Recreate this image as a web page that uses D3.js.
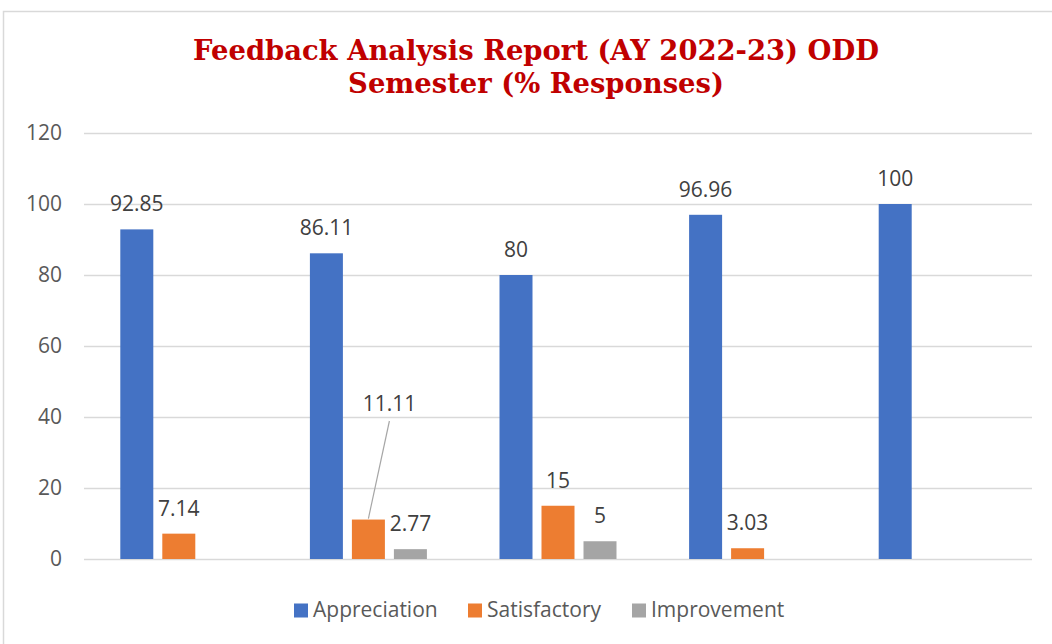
<!DOCTYPE html>
<html><head><meta charset="utf-8">
<script src="https://cdn.jsdelivr.net/npm/d3@7"></script>
<style>body{margin:0;background:#fff}svg{display:block}</style>
</head><body><svg id="c" width="1052" height="644"></svg>
<script>
const groups = ["G1","G2","G3","G4","G5"];
const seriesNames = ["Appreciation","Satisfactory","Improvement"];
const appreciation = [92.85, 86.11, 80, 96.96, 100];
const satisfactory = [7.14, 11.11, 15, 3.03, null];
const improvement = [null, 2.77, 5, null, null];
const yTicks = [0,20,40,60,80,100,120];
const colors = ["#4472C4","#ED7D31","#A5A5A5"];

const FONT = "'Open Sans', 'Noto Sans', sans-serif";
const svg = d3.select("#c");
svg.append("rect").attr("x",3.5).attr("y",11.5).attr("width",1100).attr("height",700)
  .attr("fill","#fff").attr("stroke","#D9D9D9").attr("stroke-width",1.5);

const x0 = d3.scaleBand().domain(groups).range([84,1032]).padding(0);
const x1 = d3.scaleBand().domain(seriesNames).range([36.3, x0.bandwidth()-36.3]).paddingInner(9/42).paddingOuter(0);
const y = d3.scaleLinear().domain([0,120]).range([559,133]);

// gridlines
svg.append("g").selectAll("line").data(yTicks).join("line")
  .attr("x1",84).attr("x2",1032).attr("y1",d=>Math.round(y(d))+0.5).attr("y2",d=>Math.round(y(d))+0.5)
  .attr("stroke","#D9D9D9").attr("stroke-width",1.5);

// y axis labels
const yAxis = d3.axisLeft(y).tickValues(yTicks).tickSize(0).tickPadding(0);
const ga = svg.append("g").attr("transform","translate(62,0)").call(yAxis);
ga.select(".domain").remove();
ga.selectAll("text").attr("font-family",FONT).attr("font-size",21).attr("fill","#595959");

const data = [appreciation, satisfactory, improvement];
const rows = [];
groups.forEach((g,i)=>seriesNames.forEach((s,j)=>{ if(data[j][i]!=null) rows.push({g,s,j,v:data[j][i]}); }));

svg.append("g").selectAll("rect").data(rows).join("rect")
  .attr("x",d=>x0(d.g)+x1(d.s)).attr("width",x1.bandwidth())
  .attr("y",d=>y(d.v)).attr("height",d=>y(0)-y(d.v)).attr("fill",d=>colors[d.j]);

// labels
const lab = svg.append("g").attr("font-family",FONT).attr("font-size",21).attr("fill","#404040").attr("text-anchor","middle");
rows.forEach(d=>{
  let cx = x0(d.g)+x1(d.s)+x1.bandwidth()/2;
  let ty = y(d.v)-18;
  if(d.g==="G2" && d.s==="Satisfactory"){
    const lx = cx+21, ly = 411;
    svg.append("line").attr("x1",cx).attr("y1",y(d.v)-1).attr("x2",lx).attr("y2",ly+10)
      .attr("stroke","#A6A6A6").attr("stroke-width",1.2);
    lab.append("text").attr("x",lx).attr("y",ly).text(d.v);
    return;
  }
  lab.append("text").attr("x",cx).attr("y",ty).text(d.v);
});

// title
const tt = svg.append("g").attr("font-family","'DejaVu Serif', serif").attr("font-weight","bold").attr("font-size",27.4).attr("fill","#C00000").attr("text-anchor","middle");
tt.append("text").attr("x",536).attr("y",60).text("Feedback Analysis Report (AY 2022-23) ODD");
tt.append("text").attr("x",536).attr("y",93).text("Semester (% Responses)");

// legend
const legX = [294, 468, 632];
const lg = svg.append("g");
seriesNames.forEach((s,j)=>{
  lg.append("rect").attr("x",legX[j]).attr("y",603.5).attr("width",14).attr("height",14).attr("fill",colors[j]);
  lg.append("text").attr("x",legX[j]+19).attr("y",617).attr("font-family",FONT).attr("font-size",21).attr("fill","#595959").text(s);
});
</script></body></html>
